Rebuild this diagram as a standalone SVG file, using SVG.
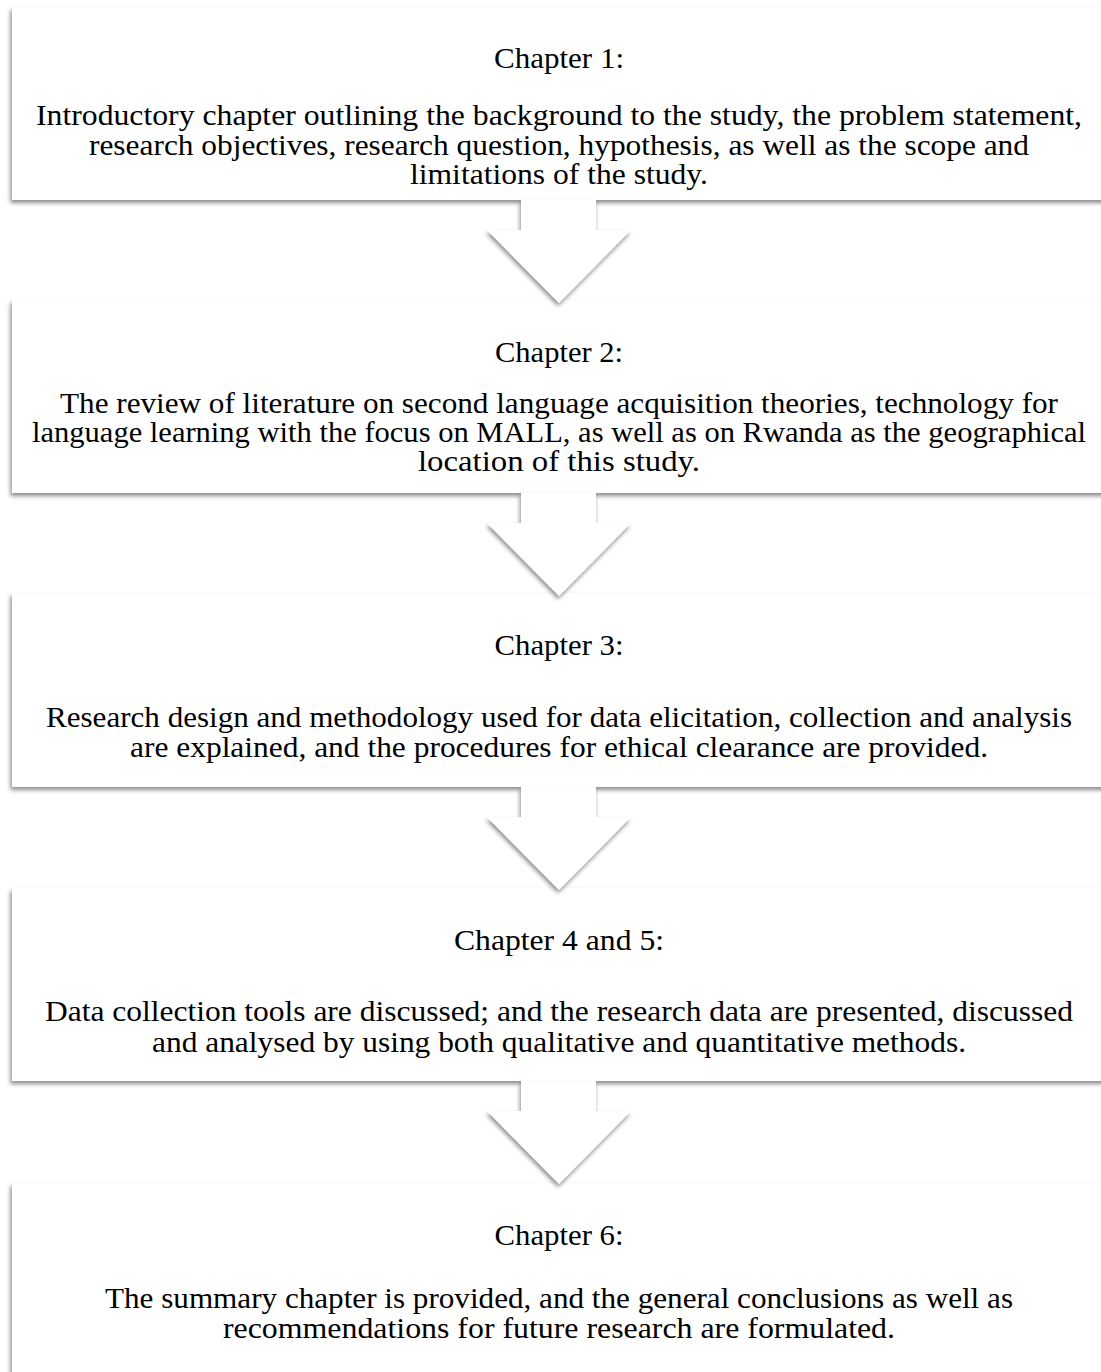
<svg xmlns="http://www.w3.org/2000/svg" width="1101" height="1372" viewBox="0 0 1101 1372">
  <defs>
    <filter id="sh" x="-5%" y="-10%" width="110%" height="130%">
      <feDropShadow dx="-1.5" dy="3" stdDeviation="2" flood-color="#000" flood-opacity="0.45"/>
    </filter>
    <filter id="ash" x="-20%" y="-20%" width="140%" height="140%">
      <feDropShadow dx="-1" dy="3" stdDeviation="2" flood-color="#000" flood-opacity="0.45"/>
    </filter>
  </defs>
  <style>
    .box { fill: #ffffff; filter: url(#sh); }
    .arrow { fill: #ffffff; filter: url(#ash); }
    .t { font-family: "Liberation Serif", "Times New Roman", serif; font-size: 29px; fill: #000; text-anchor: middle; }
  </style>
  <rect width="1101" height="1372" fill="#ffffff"/>

  <g id="node1">
    <rect class="box" x="12" y="7" width="1100" height="193"/>
    <text class="t" x="559" y="68" textLength="130" lengthAdjust="spacingAndGlyphs">Chapter 1:</text>
    <text class="t" x="559" y="125" textLength="1046" lengthAdjust="spacingAndGlyphs">Introductory chapter outlining the background to the study, the problem statement,</text>
    <text class="t" x="559" y="155" textLength="940" lengthAdjust="spacingAndGlyphs">research objectives, research question, hypothesis, as well as the scope and</text>
    <text class="t" x="559" y="184" textLength="298" lengthAdjust="spacingAndGlyphs">limitations of the study.</text>
  </g>

  <g id="node2">
    <rect class="box" x="12" y="300" width="1100" height="193"/>
    <text class="t" x="559" y="362" textLength="128" lengthAdjust="spacingAndGlyphs">Chapter 2:</text>
    <text class="t" x="559" y="413" textLength="998" lengthAdjust="spacingAndGlyphs">The review of literature on second language acquisition theories, technology for</text>
    <text class="t" x="559" y="442" textLength="1054" lengthAdjust="spacingAndGlyphs">language learning with the focus on MALL, as well as on Rwanda as the geographical</text>
    <text class="t" x="559" y="471" textLength="282" lengthAdjust="spacingAndGlyphs">location of this study.</text>
  </g>

  <g id="node3">
    <rect class="box" x="12" y="593" width="1100" height="194"/>
    <text class="t" x="559" y="655" textLength="129" lengthAdjust="spacingAndGlyphs">Chapter 3:</text>
    <text class="t" x="559" y="727" textLength="1026" lengthAdjust="spacingAndGlyphs">Research design and methodology used for data elicitation, collection and analysis</text>
    <text class="t" x="559" y="757" textLength="858" lengthAdjust="spacingAndGlyphs">are explained, and the procedures for ethical clearance are provided.</text>
  </g>

  <g id="node4">
    <rect class="box" x="12" y="888" width="1100" height="193"/>
    <text class="t" x="559" y="950" textLength="210" lengthAdjust="spacingAndGlyphs">Chapter 4 and 5:</text>
    <text class="t" x="559" y="1021" textLength="1028" lengthAdjust="spacingAndGlyphs">Data collection tools are discussed; and the research data are presented, discussed</text>
    <text class="t" x="559" y="1052" textLength="814" lengthAdjust="spacingAndGlyphs">and analysed by using both qualitative and quantitative methods.</text>
  </g>

  <g id="node5">
    <rect class="box" x="12" y="1183" width="1100" height="200"/>
    <text class="t" x="559" y="1245" textLength="129" lengthAdjust="spacingAndGlyphs">Chapter 6:</text>
    <text class="t" x="559" y="1308" textLength="908" lengthAdjust="spacingAndGlyphs">The summary chapter is provided, and the general conclusions as well as</text>
    <text class="t" x="559" y="1338" textLength="672" lengthAdjust="spacingAndGlyphs">recommendations for future research are formulated.</text>
  </g>

  <g id="connectors">
    <polygon class="arrow" points="521,200 596,200 596,230 631,230 559,303 487,230 521,230"/>
    <polygon class="arrow" points="521,493 596,493 596,523 631,523 559,596 487,523 521,523"/>
    <polygon class="arrow" points="521,787 596,787 596,817 631,817 559,890 487,817 521,817"/>
    <polygon class="arrow" points="521,1081 596,1081 596,1111 631,1111 559,1184 487,1111 521,1111"/>
  </g>
</svg>
